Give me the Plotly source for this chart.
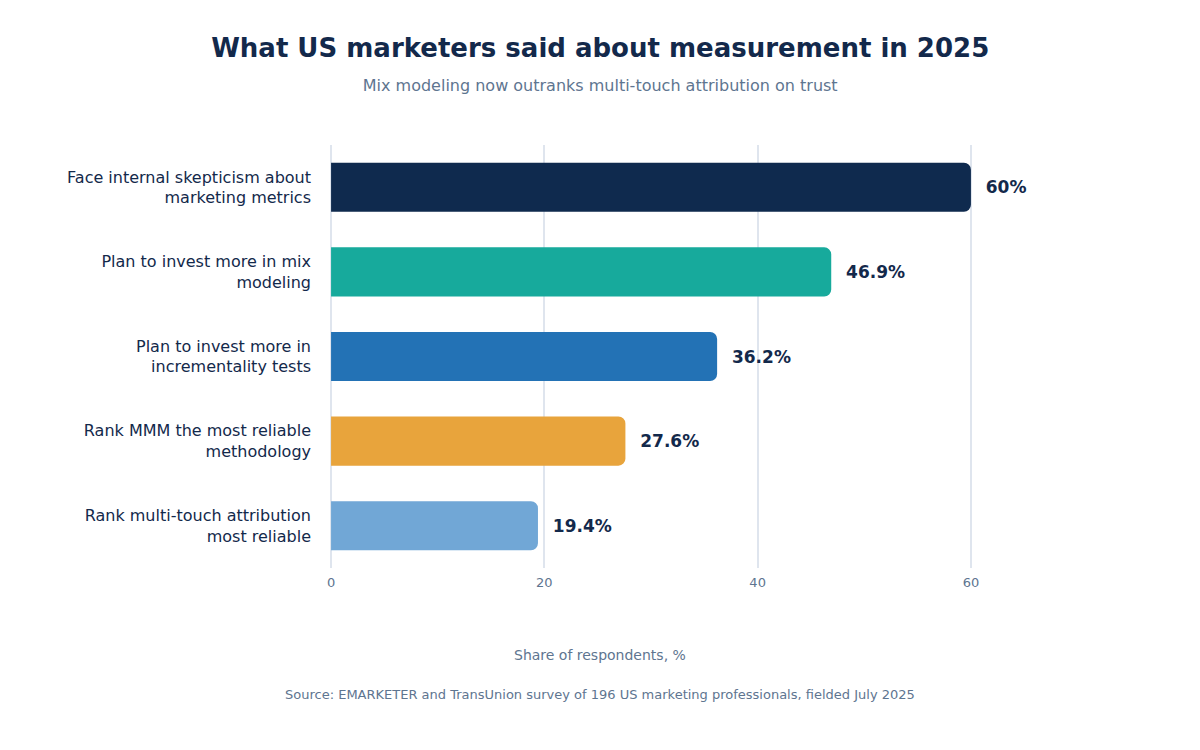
import plotly.graph_objects as go

categories = ["Face internal skepticism about<br>marketing metrics",
              "Plan to invest more in mix<br>modeling",
              "Plan to invest more in<br>incrementality tests",
              "Rank MMM the most reliable<br>methodology",
              "Rank multi-touch attribution<br>most reliable"]
values = [60, 46.9, 36.2, 27.6, 19.4]
labels = ["  60%", "  46.9%", "  36.2%", "  27.6%", "  19.4%"]
colors = ["#0f2a4e", "#17aa9c", "#2372b5", "#e8a43c", "#71a7d6"]

fig = go.Figure(go.Bar(
    x=values, y=categories, orientation="h",
    marker=dict(color=colors, cornerradius=7, line=dict(width=0)),
    width=0.58,
    text=labels, textposition="outside", cliponaxis=False,
    textfont=dict(size=17, color="#13294b", family="DejaVu Sans", weight="bold"),
    hoverinfo="skip",
))
PW = 642
def px_x(p):
    return (p - 322) / PW
def px_y(p):
    return (560 - p) / 423
fig.update_layout(
    width=1200, height=750,
    paper_bgcolor="white", plot_bgcolor="white",
    font=dict(family="DejaVu Sans", color="#13294b"),
    margin=dict(l=322, r=236, t=137, b=190),
    title=dict(text="<b>What US marketers said about measurement in 2025</b>"
               "<br><span style='font-size:16px;color:#5e7590'>Mix modeling now outranks multi-touch attribution on trust</span>",
               x=0.4935, xanchor="center", y=0.935, yanchor="top",
               font=dict(size=26, color="#13294b")),
    xaxis=dict(range=[-0.1, 60.1], tickvals=[0, 20, 40, 60], showgrid=True,
               gridcolor="#dfe5ee", gridwidth=1.5, zeroline=False,
               tickfont=dict(size=13, color="#5e7590"),
               ticks="", ticklabelstandoff=5),
    yaxis=dict(autorange="reversed", tickfont=dict(size=16, color="#13294b"),
               ticks="", ticklabelstandoff=18),
    showlegend=False,
    annotations=[
        dict(text="Share of respondents, %", x=px_x(592), xref="paper", xanchor="center",
             y=px_y(647), yref="paper", yanchor="middle", showarrow=False,
             font=dict(size=14, color="#5e7590")),
        dict(text="Source: EMARKETER and TransUnion survey of 196 US marketing professionals, fielded July 2025",
             x=px_x(592), xref="paper", xanchor="center",
             y=px_y(686), yref="paper", yanchor="middle",
             showarrow=False, font=dict(size=13, color="#5e7590"))],
)
fig.write_html("out.html")
